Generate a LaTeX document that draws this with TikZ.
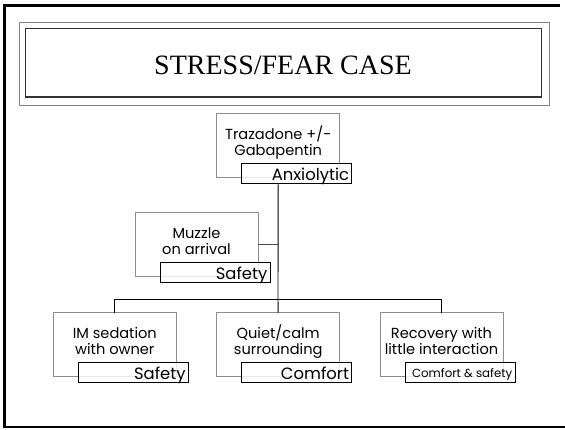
\documentclass[tikz,border=0pt]{standalone}
\usepackage{fontspec}
\setmainfont{Liberation Serif}
\newfontfamily\gothic{Poppins}
\usetikzlibrary{calc}
\tikzset{
  frameline/.style={line width=2.3pt, black},
  titleouter/.style={draw=black!50, line width=0.9pt},
  titleinner/.style={draw=black!80, line width=1.1pt},
  graybox/.style={draw=black!45, line width=0.8pt, minimum width=123pt, minimum height=64pt, inner sep=0pt, outer sep=0pt},
  labelbox/.style={draw=black, line width=0.8pt, fill=white, fill opacity=0.8, minimum width=110pt, minimum height=20pt, inner sep=0pt, outer sep=0pt},
  bodytext/.style={font=\gothic\fontsize{14.6}{16}\selectfont, inner sep=0pt},
  labeltext/.style={font=\gothic\fontsize{16.4}{18}\selectfont, inner sep=0pt},
  smalltext/.style={font=\gothic\fontsize{11.8}{13}\selectfont, inner sep=0pt},
  conn/.style={line width=0.9pt, black},
  connlight/.style={line width=0.9pt, black!70},
}
\newcommand\mkunit[8]{%
  \node[graybox, anchor=north west] (#1) at (#2,#3) {};
  \node[bodytext, anchor=base] (#1-a) at ($(#1.north)+(0,26)$) {#4};
  \node[bodytext, anchor=base] (#1-b) at ($(#1.north)+(0,42)$) {#5};
  \node[labelbox, anchor=north west] (#1-l) at ($(#1.north west)+(25,50)$) {};
  \node[#7, anchor=base east] (#1-t) at ($(#1-l.south east)+(-2.5,-#8)$) {#6};
}
\begin{document}
\begin{tikzpicture}[x=1pt,y=-1pt]
\useasboundingbox (0,0) rectangle (565,429);
% outer frame
\draw[frameline] (565,427) -- (4.5,427) -- (4.5,5.5) -- (560,5.5);
% title boxes
\draw[titleouter] (19.5,22.2) rectangle (549.3,105.5);
\draw[titleinner] (25.5,28.7) rectangle (541.7,97);
\node[font=\fontsize{28}{32}\selectfont, inner sep=0pt, anchor=base] (title) at (283,74.3) {STRESS/FEAR CASE};
% units
\mkunit{traz}{216.7}{113.3}{Trazadone +/-}{Gabapentin}{Anxiolytic}{labeltext}{3}
\mkunit{muz}{135}{212.7}{Muzzle}{on arrival}{Safety}{labeltext}{3.5}
\mkunit{im}{53.3}{312.7}{IM sedation}{with owner}{Safety}{labeltext}{3.5}
\mkunit{quiet}{216.7}{312.7}{Quiet/calm}{surrounding}{Comfort}{labeltext}{3}
\mkunit{rec}{380}{312.7}{Recovery with}{little interaction}{Comfort \& safety}{smalltext}{5}
% connectors
\coordinate (busc) at (278,299);
\draw[conn] (traz.center |- traz-l.south) -- (busc);
\draw[connlight] (muz.east) -- (muz.east -| busc);
\draw[conn] (im.north |- busc) -- (rec.north |- busc);
\draw[conn] (im.north |- busc) -- (im.north);
\draw[conn] (busc) -- (quiet.north);
\draw[conn] (rec.north |- busc) -- (rec.north);
\end{tikzpicture}
\end{document}
